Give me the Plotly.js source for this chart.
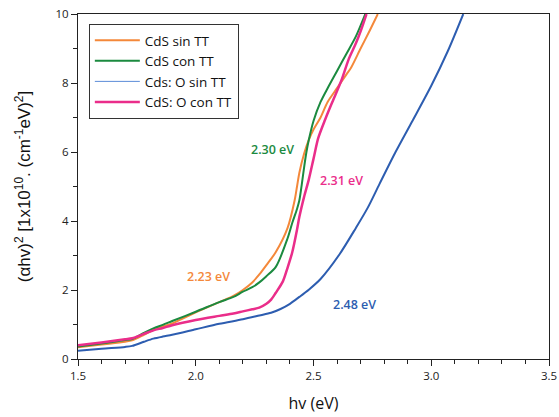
<!DOCTYPE html>
<html>
<head>
<meta charset="utf-8">
<script src="https://cdn.plot.ly/plotly-3.0.1.min.js"></script>
<style>html,body{margin:0;padding:0;background:#fff;}#chart{width:559px;height:417px;}</style>
</head>
<body>
<div id="chart"></div>
<script>
// CdS sin TT (orange)
const xOrange = [1.50,1.60,1.70,1.73,1.78,1.82,1.86,1.90,2.00,2.10,2.16,2.20,2.24,2.27,2.30,2.34,2.39,2.42,2.43,2.44,2.46,2.48,2.50,2.53,2.56,2.60,2.64,2.66,2.70,2.733,2.773];
const yOrange = [0.34,0.42,0.50,0.54,0.70,0.84,0.94,1.03,1.35,1.65,1.83,2.00,2.22,2.45,2.72,3.10,3.80,4.60,5.00,5.40,5.95,6.35,6.65,7.00,7.45,7.85,8.25,8.45,9.00,9.44,10.0];
// CdS con TT (green)
const xGreen = [1.50,1.60,1.70,1.73,1.78,1.82,1.86,1.90,2.00,2.10,2.16,2.20,2.24,2.27,2.30,2.34,2.39,2.41,2.43,2.44,2.45,2.46,2.47,2.48,2.50,2.53,2.56,2.60,2.64,2.68,2.72];
const yGreen = [0.36,0.45,0.55,0.58,0.76,0.89,0.99,1.10,1.37,1.65,1.80,1.95,2.08,2.22,2.40,2.67,3.50,3.95,4.35,4.60,5.05,5.55,6.00,6.35,6.90,7.45,7.85,8.35,8.85,9.35,10.0];
// Cds: O sin TT (blue)
const xBlue = [1.50,1.60,1.70,1.73,1.78,1.82,1.86,1.90,2.00,2.10,2.20,2.27,2.32,2.36,2.40,2.44,2.48,2.53,2.61,2.68,2.73,2.78,2.85,2.92,3.00,3.07,3.136];
const yBlue = [0.24,0.30,0.35,0.38,0.50,0.59,0.65,0.70,0.86,1.02,1.15,1.26,1.34,1.45,1.60,1.80,2.01,2.32,3.03,3.80,4.38,5.07,6.02,6.90,7.92,8.92,10.0];
// CdS: O con TT (pink)
const xPink = [1.50,1.60,1.70,1.73,1.78,1.82,1.86,1.90,2.00,2.10,2.16,2.20,2.24,2.27,2.30,2.32,2.34,2.37,2.39,2.41,2.43,2.44,2.46,2.48,2.50,2.52,2.55,2.58,2.62,2.65,2.68,2.70,2.725];
const yPink = [0.40,0.48,0.57,0.60,0.73,0.83,0.90,0.98,1.13,1.25,1.32,1.38,1.44,1.49,1.60,1.72,1.92,2.25,2.65,3.10,3.75,4.12,4.70,5.20,5.80,6.40,6.95,7.45,8.10,8.70,9.15,9.50,10.0];

const names = ["CdS sin TT","CdS con TT","Cds: O sin TT","CdS: O con TT"];
const colors = ["#f4883a","#1b8a3f","#2d5db0","#ea2d8a"];
const gapLabels = ["2.23 eV","2.30 eV","2.48 eV","2.31 eV"];
const gapX = [2.052,2.328,2.672,2.617];
const gapY = [2.38,6.06,1.59,5.16];

const ln = (c,w)=>({color:c,width:w,shape:"spline",smoothing:0.8});
const traces = [
  {x:xOrange,y:yOrange,name:names[0],mode:"lines",line:ln(colors[0],2),legendrank:1},
  {x:xGreen,y:yGreen,name:names[1],mode:"lines",line:ln(colors[1],2),legendrank:2},
  {x:xBlue,y:yBlue,name:names[2],mode:"lines",line:ln(colors[2],2),showlegend:false},
  {x:[null],y:[null],name:names[2],mode:"lines",line:{color:"#5b8bd8",width:1},legendrank:3},
  {x:xPink,y:yPink,name:names[3],mode:"lines",line:ln(colors[3],2.5),legendrank:4}
];

const annotations = gapLabels.map((t,i)=>({
  x:gapX[i], y:gapY[i], text:t, showarrow:false, xref:"x", yref:"y",
  font:{family:"Open Sans, sans-serif", size:12.5, color:colors[i], weight:600}
}));

const axisFont = {family:"Open Sans, sans-serif", size:11.5, color:"#222"};

const layout = {
  width:559, height:417,
  margin:{l:78, r:10, t:14, b:58},
  paper_bgcolor:"#fff", plot_bgcolor:"#fff",
  showlegend:true,
  legend:{x:0.023, y:0.971, xanchor:"left", yanchor:"top", bordercolor:"#333", borderwidth:1,
    bgcolor:"#fff", font:{family:"Open Sans, sans-serif", size:13.5, color:"#111"}, tracegroupgap:0, itemwidth:45},
  xaxis:{range:[1.5,3.5], tickvals:[1.5,2.0,2.5,3.0,3.5], ticktext:["1.5","2.0","2.5","3.0","3.5"],
    ticks:"outside", ticklen:6, tickcolor:"#222", showline:true, linecolor:"#222", linewidth:1, mirror:true,
    showgrid:false, zeroline:false, tickfont:axisFont,
    minor:{dtick:0.1, ticks:"outside", ticklen:4, tickcolor:"#222", showgrid:false},
    title:{text:"hv (eV)", font:{family:"Open Sans, sans-serif", size:16, color:"#111"}, standoff:16}},
  yaxis:{range:[0,10], tickvals:[0,2,4,6,8,10], ticks:"outside", ticklen:6, tickcolor:"#222",
    showline:true, linecolor:"#222", linewidth:1, mirror:true, showgrid:false, zeroline:false, tickfont:axisFont,
    minor:{dtick:1, ticks:"outside", ticklen:4, tickcolor:"#222", showgrid:false},
    title:{text:"(αhv)<sup>2</sup> [1x10<sup>10</sup>. (cm<sup>-1</sup>eV)<sup>2</sup>]", font:{family:"Liberation Sans, Arial, sans-serif", size:17, color:"#111"}, standoff:20}},
  annotations:annotations
};

Plotly.newPlot("chart", traces, layout, {staticPlot:true, displayModeBar:false});
</script>
</body>
</html>
